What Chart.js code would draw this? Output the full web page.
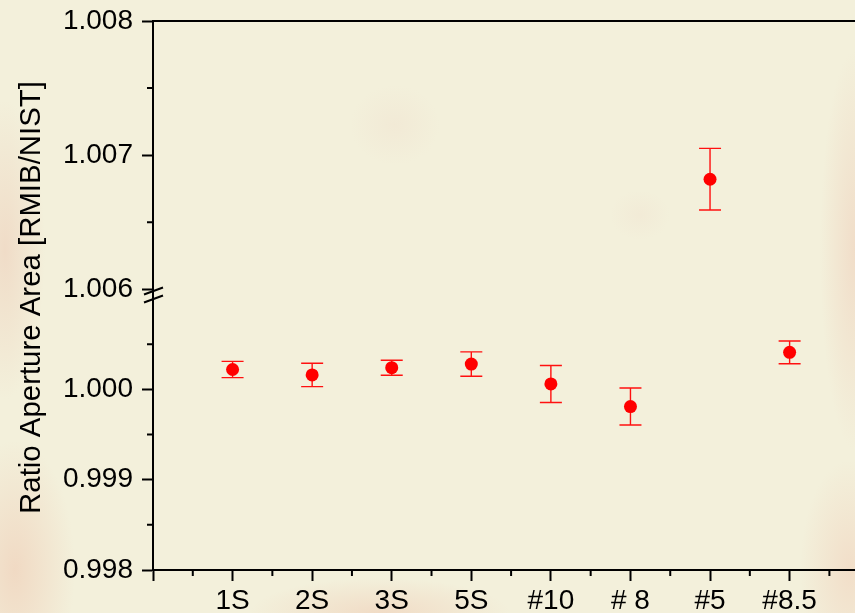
<!DOCTYPE html>
<html>
<head>
<meta charset="utf-8">
<script src="https://cdn.jsdelivr.net/npm/chart.js@4"></script>
<style>
html,body{margin:0;padding:0;}
body{width:855px;height:613px;overflow:hidden;
background:
 radial-gradient(ellipse 40px 150px at 5px 250px, rgba(236,195,175,0.45), rgba(236,195,175,0)),
 radial-gradient(ellipse 60px 130px at 15px 570px, rgba(238,195,172,0.5), rgba(238,195,172,0)),
 radial-gradient(ellipse 130px 35px at 380px 613px, rgba(238,195,172,0.45), rgba(238,195,172,0)),
 radial-gradient(ellipse 35px 200px at 855px 250px, rgba(238,198,178,0.45), rgba(238,198,178,0)),
 radial-gradient(ellipse 50px 110px at 850px 570px, rgba(240,200,178,0.45), rgba(240,200,178,0)),
 radial-gradient(ellipse 45px 40px at 395px 125px, rgba(236,205,190,0.18), rgba(236,205,190,0)),
 radial-gradient(ellipse 30px 25px at 640px 215px, rgba(236,205,190,0.15), rgba(236,205,190,0)),
 #f3f0db;}
#wrap{position:relative;width:855px;height:613px;}
</style>
</head>
<body>
<div id="wrap"><canvas id="c" width="855" height="613"></canvas></div>
<script>
// ---- data ----
const categories = ['1S', '2S', '3S', '5S', '#10', '# 8', '#5', '#8.5'];
const ratioValues = [1.00022, 1.00016, 1.00024, 1.00028, 1.00006, 0.99981, 1.00682, 1.00041];
const ratioErrors = [0.00009, 0.00013, 0.000083, 0.000135, 0.000205, 0.000205, 0.00023, 0.000126];
const lowerTicks = [0.998, 0.999, 1.000];
const upperTicks = [1.006, 1.007, 1.008];
const lowerMinorTicks = [0.9985, 0.9995, 1.0005];
const upperMinorTicks = [1.0065, 1.0075];
const xMajorTicks = [0, 1, 2, 3, 4, 5, 6, 7, 8];
const xMinorTicks = [0.5, 1.5, 2.5, 3.5, 4.5, 5.5, 6.5, 7.5, 8.5];
const breakLevel = 1.003;
const yTitle = 'Ratio Aperture Area [RMIB/NIST]';

const FONT = "'Liberation Sans', Arial, sans-serif";

const lowerData = [], upperData = [];
ratioValues.forEach((v, i) => {
  const p = {x: i + 1, y: v, err: ratioErrors[i]};
  (v < breakLevel ? lowerData : upperData).push(p);
});

const errorBarPlugin = {
  id: 'errorBars',
  beforeDatasetsDraw(chart) {
    const ctx = chart.ctx;
    ctx.save();
    ctx.strokeStyle = '#ff1010';
    ctx.lineWidth = 1.4;
    chart.data.datasets.forEach((ds, di) => {
      const meta = chart.getDatasetMeta(di);
      const ys = chart.scales[ds.yAxisID];
      meta.data.forEach((pt, j) => {
        const d = ds.data[j];
        const x = pt.x;
        const yt = ys.getPixelForValue(d.y + d.err);
        const yb = ys.getPixelForValue(d.y - d.err);
        ctx.beginPath();
        ctx.moveTo(x, yt); ctx.lineTo(x, yb);
        ctx.moveTo(x - 11, yt); ctx.lineTo(x + 11, yt);
        ctx.moveTo(x - 11, yb); ctx.lineTo(x + 11, yb);
        ctx.stroke();
      });
    });
    ctx.restore();
  }
};

const decorPlugin = {
  id: 'decor',
  afterDraw(chart) {
    const ctx = chart.ctx;
    const a = chart.chartArea;
    const xs = chart.scales.x, yl = chart.scales.yLow, yu = chart.scales.yUp;
    ctx.save();
    ctx.strokeStyle = '#000';
    ctx.lineWidth = 2;
    // top frame line
    ctx.beginPath();
    ctx.moveTo(a.left, a.top); ctx.lineTo(chart.width, a.top);
    ctx.moveTo(a.right, a.bottom); ctx.lineTo(chart.width, a.bottom);
    ctx.stroke();
    // minor ticks
    ctx.beginPath();
    xMinorTicks.forEach(v => {
      const px = xs.getPixelForValue(v);
      ctx.moveTo(px, a.bottom); ctx.lineTo(px, a.bottom + 6);
    });
    lowerMinorTicks.forEach(v => {
      const py = yl.getPixelForValue(v);
      ctx.moveTo(a.left, py); ctx.lineTo(a.left - 6, py);
    });
    upperMinorTicks.forEach(v => {
      const py = yu.getPixelForValue(v);
      ctx.moveTo(a.left, py); ctx.lineTo(a.left - 6, py);
    });
    ctx.stroke();
    // axis break marks
    const by = yu.bottom;
    ctx.beginPath();
    ctx.moveTo(a.left - 9, by + 0); ctx.lineTo(a.left + 10, by - 7);
    ctx.moveTo(a.left - 9, by + 8); ctx.lineTo(a.left + 10, by + 1);
    ctx.stroke();
    // y title
    ctx.fillStyle = '#000';
    ctx.font = '29.4px ' + FONT;
    ctx.textAlign = 'center';
    ctx.textBaseline = 'middle';
    ctx.translate(32, (a.top + a.bottom) / 2 + 2);
    ctx.rotate(-Math.PI / 2);
    ctx.fillText(yTitle, 0, 0);
    ctx.restore();
  }
};

function yAxis(min, max, weight, ticksArr) {
  return {
    type: 'linear', position: 'left', stack: 'ybreak', stackWeight: weight,
    min: min, max: max,
    afterBuildTicks: s => { s.ticks = ticksArr.map(v => ({value: v})); },
    afterFit: s => { s.width = 90; s.paddingTop = 0; s.paddingBottom = 0; },
    grid: {drawOnChartArea: false, tickLength: 11, tickWidth: 2, tickColor: '#000'},
    border: {display: true, color: '#000', width: 2},
    ticks: {
      color: '#000', font: {family: FONT, size: 28}, padding: 9, autoSkip: false,
      callback: v => Number(v).toFixed(3)
    }
  };
}

new Chart(document.getElementById('c'), {
  type: 'scatter',
  data: {
    datasets: [
      {data: lowerData, yAxisID: 'yLow', xAxisID: 'x', pointRadius: 6.5, pointHoverRadius: 6.5,
       backgroundColor: '#ff0000', borderColor: '#ff0000', borderWidth: 0, showLine: false},
      {data: upperData, yAxisID: 'yUp', xAxisID: 'x', pointRadius: 6.5, pointHoverRadius: 6.5,
       backgroundColor: '#ff0000', borderColor: '#ff0000', borderWidth: 0, showLine: false}
    ]
  },
  options: {
    responsive: false, animation: false, devicePixelRatio: 1,
    layout: {padding: {left: 63, top: 21, right: 0, bottom: 0}},
    plugins: {legend: {display: false}, tooltip: {enabled: false}, title: {display: false}},
    scales: {
      yLow: yAxis(0.998, 1.00105, 275.3, lowerTicks),
      yUp: yAxis(1.00596, 1.008, 273.4, upperTicks),
      x: {
        type: 'linear', position: 'bottom', min: 0, max: 8.74,
        afterBuildTicks: s => { s.ticks = xMajorTicks.map(v => ({value: v})); },
        afterFit: s => { s.height = 43; s.paddingLeft = 0; s.paddingRight = 0; },
        grid: {drawOnChartArea: false, tickLength: 11, tickWidth: 2, tickColor: '#000'},
        border: {display: true, color: '#000', width: 2},
        ticks: {
          color: '#000', font: {family: FONT, size: 28}, padding: 3, autoSkip: false, maxRotation: 0,
          callback: v => categories[v - 1] !== undefined ? categories[v - 1] : ''
        }
      }
    }
  },
  plugins: [errorBarPlugin, decorPlugin]
});
</script>
</body>
</html>
